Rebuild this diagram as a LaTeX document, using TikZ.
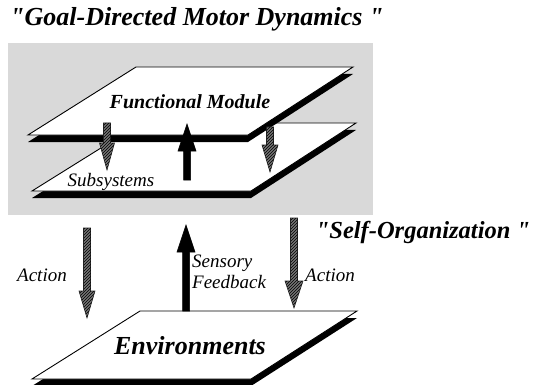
\documentclass[tikz,border=0pt]{standalone}
\usepackage{fontspec}
\setmainfont{Liberation Serif}[Ligatures=TeXOff]
\usetikzlibrary{calc,patterns}

% A slab: black drop shadow under a white parallelogram face
\newcommand\slab[1]{%
  \fill[slabshadow] ($(#1-tl)+(0,7)$) -- ($(#1-tr)+(0,7)$) -- ($(#1-br)+(0,7)$) -- ($(#1-bl)+(0,7)$) -- cycle;
  \draw[slabface] (#1-tl) -- (#1-tr) -- (#1-br) -- (#1-bl) -- cycle;
}
% A vertical block arrow: #1 style, #2 tail, #3 tip, #4 head half width
\newcommand\blockarrow[4]{%
  \coordinate (ba-h) at ($(#3)!27pt!(#2)$);
  \path[#1] ($(#2)+(-3.5,0)$) -- ($(ba-h)+(-3.5,0)$) -- ($(ba-h)+(-#4,0)$) -- (#3)
    -- ($(ba-h)+(#4,0)$) -- ($(ba-h)+(3.5,0)$) -- ($(#2)+(3.5,0)$) -- cycle;
}

\begin{document}
\begin{tikzpicture}[x=1pt,y=-1pt,
  slabface/.style={fill=white,draw=black,line width=0.9pt},
  slabshadow/.style={fill=black},
  solidarrow/.style={fill=black,draw=black,line width=0.5pt,line join=miter},
  hatcharrow/.style={fill=black!55,draw=black!85,line width=0.6pt,
    postaction={pattern=north east lines,pattern color=black}},
  lbl/.style={font=\itshape\fontsize{19}{21}\selectfont,inner sep=0pt},
  heading/.style={font=\bfseries\itshape\fontsize{26}{28}\selectfont,inner sep=0pt},
  slabtext/.style={font=\bfseries\itshape\fontsize{20}{22}\selectfont,inner sep=0pt}]

\useasboundingbox (0,0) rectangle (543,385);

% shaded region holding the two upper slabs
\fill[black!15] (8,43) rectangle (373,215);

% slab corners
\coordinate (sub-tl) at (141,123); \coordinate (sub-tr) at (356,123);
\coordinate (sub-br) at (251,191); \coordinate (sub-bl) at (32,191);
\coordinate (fun-tl) at (136,67);  \coordinate (fun-tr) at (353,67);
\coordinate (fun-br) at (248,135); \coordinate (fun-bl) at (28,135);
\coordinate (env-tl) at (140,311); \coordinate (env-tr) at (357,311);
\coordinate (env-br) at (251,379); \coordinate (env-bl) at (32,379);

\slab{sub}
\slab{fun}
\slab{env}

% arrow end points
\coordinate (a1s) at (107,123); \coordinate (a1t) at (107,170);
\coordinate (a2s) at (187,180); \coordinate (a2t) at (187,124);
\coordinate (a3s) at (270,127); \coordinate (a3t) at (270,172);
\coordinate (a4s) at (87,228);  \coordinate (a4t) at (87,318);
\coordinate (a5s) at (186,311); \coordinate (a5t) at (186,225);
\coordinate (a6s) at (294,218); \coordinate (a6t) at (294,308);

\blockarrow{hatcharrow}{a1s}{a1t}{7.5}
\blockarrow{solidarrow}{a2s}{a2t}{9}
\blockarrow{hatcharrow}{a3s}{a3t}{8}
\blockarrow{hatcharrow}{a4s}{a4t}{8}
\blockarrow{solidarrow}{a5s}{a5t}{9}
\blockarrow{hatcharrow}{a6s}{a6t}{9}

% labels
\node[heading,anchor=base west] (title) at (10,26) {"Goal-Directed Motor Dynamics "};
\node[heading,font=\bfseries\itshape\fontsize{24.5}{26}\selectfont] (selforg) at (423,232) {"Self-Organization "};
\node[slabtext] (funlbl) at (190,102) {Functional Module};
\node[lbl] (sublbl) at (111,182) {Subsystems};
\node[slabtext,font=\bfseries\itshape\fontsize{26}{28}\selectfont] (envlbl) at (190,346) {Environments};
\node[lbl] (act1) at (42,275) {Action};
\node[lbl] (act2) at (330,275) {Action};
\node[lbl,align=left,anchor=west] (sensor) at (192,272) {Sensory\\Feedback};

\end{tikzpicture}
\end{document}
